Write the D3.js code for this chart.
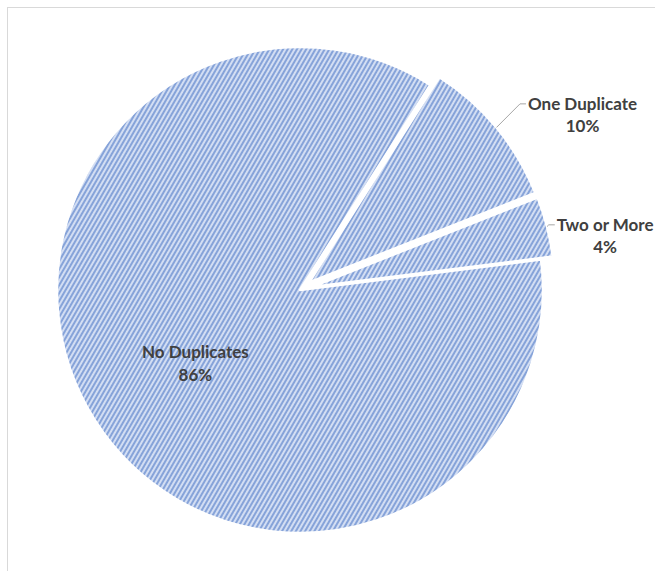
<!DOCTYPE html>
<html>
<head>
<meta charset="utf-8">
<script src="https://cdn.jsdelivr.net/npm/d3@7"></script>
<style>
html,body{margin:0;padding:0;background:#fff;}
svg{display:block;}
</style>
</head>
<body>
<svg id="chart" width="655" height="571"></svg>
<script>
// ---- data ----
const categories = ["No Duplicates", "One Duplicate", "Two or More"];
const values = [86, 10, 4];
const percentLabels = ["86%", "10%", "4%"];
const exploded = [false, true, true];

// ---- layout ----
const W = 655, H = 571;
const cx = 300, cy = 290, R = 243;
const explodeDist = 12;
const startDeg = 82.8;
const labelMode = ["inside", "outside", "outside"];
const leaderExtra = [0, 37, 7];

const svg = d3.select("#chart");

// frame
svg.append("rect").attr("x", 7.5).attr("y", 7.5).attr("width", 700).attr("height", 620)
  .attr("fill", "#fff").attr("stroke", "#d9d9d9").attr("stroke-width", 1);

// hatch pattern
const defs = svg.append("defs");
const pat = defs.append("pattern").attr("id", "hatch").attr("patternUnits", "userSpaceOnUse")
  .attr("width", 4).attr("height", 4).attr("patternTransform", "rotate(30)");
pat.append("rect").attr("width", 4).attr("height", 4).attr("fill", "#d3def3");
pat.append("rect").attr("x", 0).attr("y", 0).attr("width", 2).attr("height", 4).attr("fill", "#86a3d9");

const data = categories.map((c, i) => ({ name: c, value: values[i], pct: percentLabels[i], exploded: exploded[i], i }));

const rad = d => d * Math.PI / 180;
const pie = d3.pie().value(d => d.value).sort(null)
  .startAngle(rad(startDeg)).endAngle(rad(startDeg) + 2 * Math.PI);
const arcs = pie(data);
const arc = d3.arc().innerRadius(0).outerRadius(R);

const g = svg.append("g").attr("transform", `translate(${cx},${cy})`);

function offsetOf(a) {
  if (!a.data.exploded) return [0, 0];
  const m = (a.startAngle + a.endAngle) / 2;
  return [explodeDist * Math.sin(m), -explodeDist * Math.cos(m)];
}

g.selectAll("path.slice").data(arcs).enter().append("path")
  .attr("class", "slice")
  .attr("transform", a => { const o = offsetOf(a); return `translate(${o[0]},${o[1]})`; })
  .attr("d", arc)
  .attr("fill", "url(#hatch)")
  .attr("stroke", "#ffffff")
  .attr("stroke-width", 2.5)
  .attr("stroke-linejoin", "round");

const fontFamily = "Lato, 'Open Sans', sans-serif";
const fontSize = 17;
const textColor = "#404040";

arcs.forEach((a, i) => {
  const m = (a.startAngle + a.endAngle) / 2;
  const dir = [Math.sin(m), -Math.cos(m)];
  if (labelMode[i] === "inside") {
    const r = R * 0.5;
    const x = dir[0] * r - 2, y = dir[1] * r;
    const t = g.append("text").attr("text-anchor", "middle")
      .attr("font-family", fontFamily).attr("font-weight", "bold").attr("font-size", fontSize)
      .attr("fill", textColor);
    t.append("tspan").attr("x", x).attr("y", y - 3).attr("dy", "0.35em").text(a.data.name);
    t.append("tspan").attr("x", x).attr("y", y + 20).attr("dy", "0.35em").text(a.data.pct);
  } else {
    const sx = dir[0] * (R + explodeDist), sy = dir[1] * (R + explodeDist);
    const rr = R + explodeDist + leaderExtra[i];
    const ex = dir[0] * rr, ey = dir[1] * rr;
    g.append("path")
      .attr("d", `M${sx},${sy} L${ex - 5},${ey} L${ex + 1},${ey}`)
      .attr("fill", "none").attr("stroke", "#a6a6a6").attr("stroke-width", 1);
    const tx = ex + 3;
    const t1 = g.append("text").attr("x", tx).attr("y", ey).attr("dy", "0.35em")
      .attr("font-family", fontFamily).attr("font-weight", "bold").attr("font-size", fontSize)
      .attr("fill", textColor).text(a.data.name);
    const w = t1.node().getComputedTextLength();
    g.append("text").attr("x", tx + w / 2).attr("y", ey + 22).attr("dy", "0.35em")
      .attr("text-anchor", "middle")
      .attr("font-family", fontFamily).attr("font-weight", "bold").attr("font-size", fontSize)
      .attr("fill", textColor).text(a.data.pct);
  }
});
</script>
</body>
</html>
